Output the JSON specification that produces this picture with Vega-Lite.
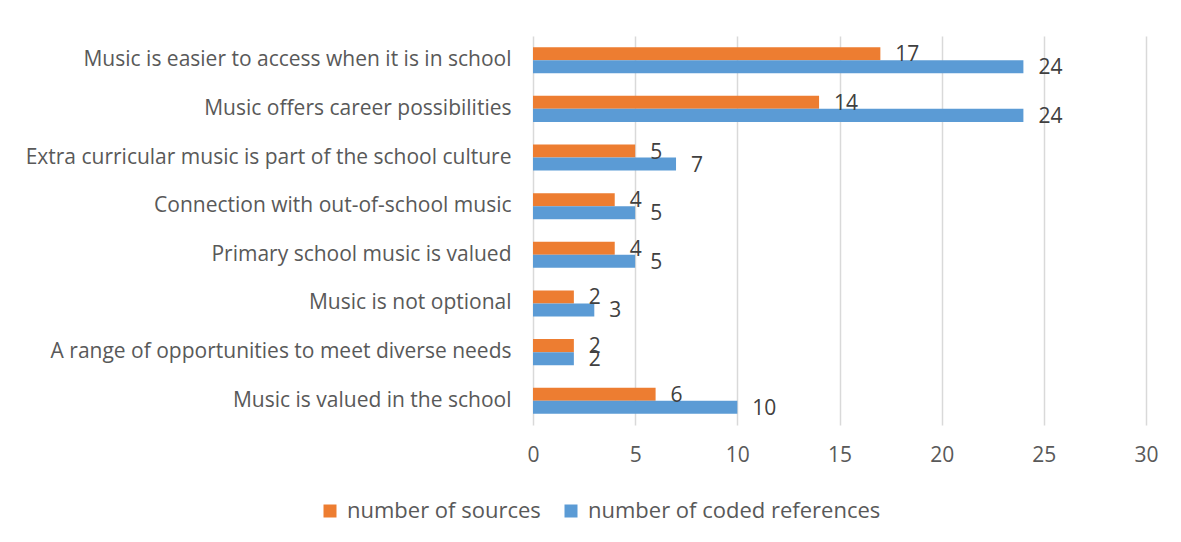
{
  "$schema": "https://vega.github.io/schema/vega-lite/v6.json",
  "autosize": "none",
  "width": 613,
  "height": 389,
  "padding": {"left": 533, "top": 36, "right": 35, "bottom": 117},
  "background": "white",
  "config": {
    "view": {"stroke": null},
    "font": "Open Sans",
    "axis": {"labelFont": "Open Sans", "labelColor": "#595959", "labelFontSize": 21}
  },
  "data": {
    "values": [
      {"item": "Music is easier to access when it is in school", "series": "number of sources", "value": 17},
      {"item": "Music is easier to access when it is in school", "series": "number of coded references", "value": 24},
      {"item": "Music offers career possibilities", "series": "number of sources", "value": 14},
      {"item": "Music offers career possibilities", "series": "number of coded references", "value": 24},
      {"item": "Extra curricular music is part of the school culture", "series": "number of sources", "value": 5},
      {"item": "Extra curricular music is part of the school culture", "series": "number of coded references", "value": 7},
      {"item": "Connection with out-of-school music", "series": "number of sources", "value": 4},
      {"item": "Connection with out-of-school music", "series": "number of coded references", "value": 5},
      {"item": "Primary school music is valued", "series": "number of sources", "value": 4},
      {"item": "Primary school music is valued", "series": "number of coded references", "value": 5},
      {"item": "Music is not optional", "series": "number of sources", "value": 2},
      {"item": "Music is not optional", "series": "number of coded references", "value": 3},
      {"item": "A range of opportunities to meet diverse needs", "series": "number of sources", "value": 2},
      {"item": "A range of opportunities to meet diverse needs", "series": "number of coded references", "value": 2},
      {"item": "Music is valued in the school", "series": "number of sources", "value": 6},
      {"item": "Music is valued in the school", "series": "number of coded references", "value": 10}
    ]
  },
  "encoding": {
    "y": {
      "field": "item", "type": "nominal", "sort": null,
      "scale": {"paddingInner": 0.465, "paddingOuter": 0.23},
      "axis": {"title": null, "domain": false, "ticks": false, "labelPadding": 22, "labelLimit": 600}
    },
    "yOffset": {
      "field": "series", "type": "nominal",
      "sort": ["number of sources", "number of coded references"],
      "scale": {"domain": ["number of sources", "number of coded references"]}
    },
    "x": {
      "field": "value", "type": "quantitative",
      "scale": {"domain": [0, 30], "nice": false},
      "axis": {"title": null, "values": [0, 5, 10, 15, 20, 25, 30], "domain": false, "ticks": false, "labelFlush": false,
        "gridColor": "#D9D9D9", "gridWidth": 1.5, "labelPadding": 19}
    }
  },
  "layer": [
    {
      "mark": {"type": "bar"},
      "encoding": {
        "color": {
          "field": "series", "type": "nominal",
          "scale": {"domain": ["number of sources", "number of coded references"], "range": ["#ED7D31", "#5B9BD5"]},
          "legend": {
            "title": null, "orient": "none", "direction": "horizontal",
            "legendX": -214, "legendY": 464,
            "symbolType": "square", "symbolSize": 169, "symbolStrokeWidth": 0,
            "labelFontSize": 22, "labelColor": "#595959", "labelFont": "Open Sans",
            "columnPadding": 19, "labelOffset": 6, "labelLimit": 400
          }
        }
      }
    },
    {
      "mark": {"type": "text", "align": "left", "baseline": "middle", "dx": 15, "dy": 1.5, "fontSize": 21, "color": "#404040", "font": "Open Sans"},
      "encoding": {"text": {"field": "value", "type": "quantitative"}}
    }
  ]
}
